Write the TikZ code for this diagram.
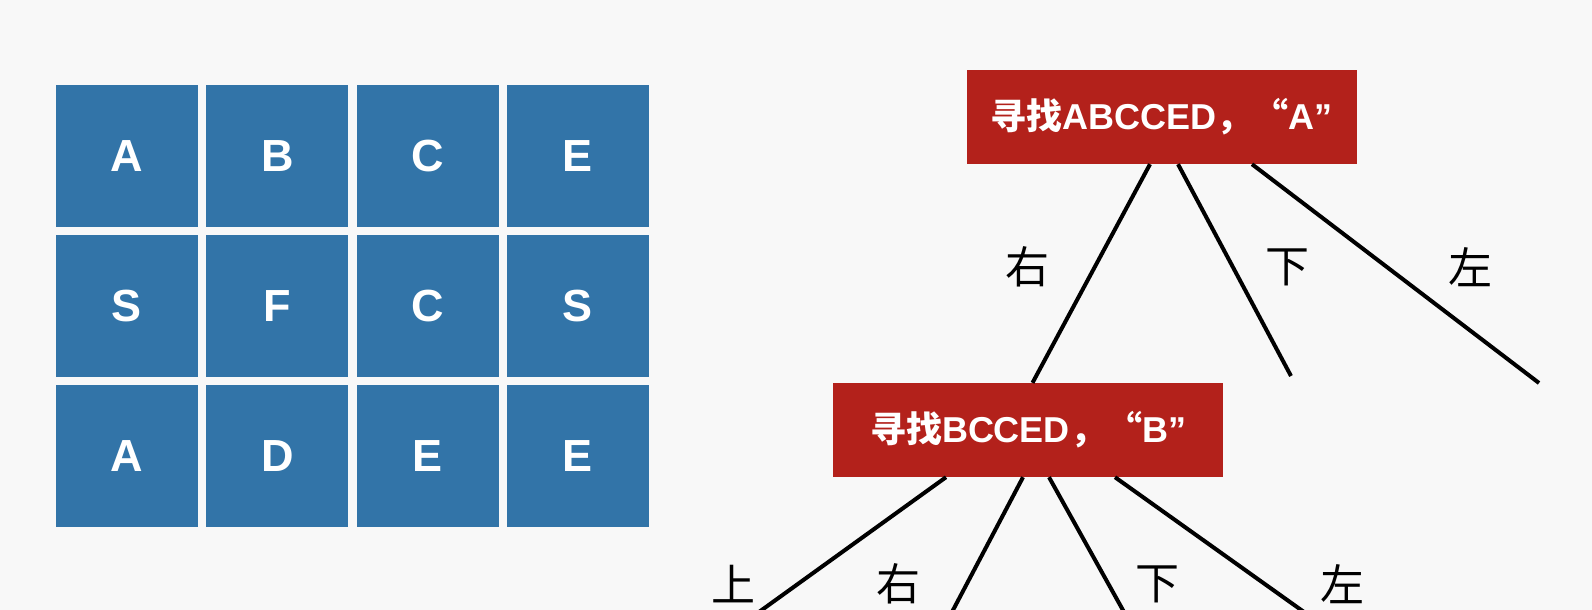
\documentclass[tikz,border=0pt]{standalone}
\usepackage{fontspec}
\setmainfont{Liberation Sans}
\newfontfamily\cjk{Noto Sans CJK SC}
\definecolor{cellblue}{HTML}{3274A8}
\definecolor{boxred}{HTML}{B3211B}
\definecolor{paper}{HTML}{F8F8F8}
\begin{document}
\begin{tikzpicture}[x=1pt,y=-1pt,
    cell/.style={fill=cellblue,minimum width=142pt,minimum height=142pt,
      inner sep=0pt,text=white,font=\fontsize{45}{45}\selectfont\bfseries},
    goal/.style={fill=boxred,minimum width=390pt,minimum height=94pt,
      inner sep=0pt,text=white,font=\fontsize{36}{36}\selectfont\bfseries},
    dir/.style={font=\cjk\fontsize{44}{44}\selectfont},
    branch/.style={line width=4pt}]
\fill[paper] (0,0) rectangle (1592,610);
\useasboundingbox (0,0) rectangle (1592,610);
% board
\foreach \ch [count=\i from 0] in {A,B,C,E,S,F,C,S,A,D,E,E}{
  \pgfmathtruncatemacro\r{int(\i/4)}
  \pgfmathtruncatemacro\c{mod(\i,4)}
  \node[cell] (cell-\r-\c) at (127+150.3*\c,156+150*\r) {\ch};
}
% search tree
\node[goal] (findA) at (1161.5,117) {{\cjk 寻找}ABCCED{\cjk ，“}A”};
\node[goal] (findB) at (1028,430) {{\cjk 寻找}BCCED{\cjk ，“}B”};
\coordinate (downA) at (1291,376);
\coordinate (leftA) at (1539,383);
\draw[branch] ([xshift=-11.5pt]findA.south) -- ([xshift=4.5pt]findB.north);
\draw[branch] ([xshift=16.5pt]findA.south) -- (downA);
\draw[branch] ([xshift=90.5pt]findA.south) -- (leftA);
\node[dir] (rightA-l) at (1027,267) {右};
\node[dir] (downA-l) at (1287,267) {下};
\node[dir] (leftA-l) at (1470,267) {左};
\coordinate (upB) at (759,612);
\coordinate (rightB) at (952,612);
\coordinate (downB) at (1124,612);
\coordinate (leftB) at (1304,612);
\draw[branch] ([xshift=-82pt]findB.south) -- (upB);
\draw[branch] ([xshift=-5pt]findB.south) -- (rightB);
\draw[branch] ([xshift=21pt]findB.south) -- (downB);
\draw[branch] ([xshift=87pt]findB.south) -- (leftB);
\node[dir] (upB-l) at (733,584) {上};
\node[dir] (rightB-l) at (898,584) {右};
\node[dir] (downB-l) at (1157,584) {下};
\node[dir] (leftB-l) at (1342,584) {左};
\end{tikzpicture}
\end{document}
